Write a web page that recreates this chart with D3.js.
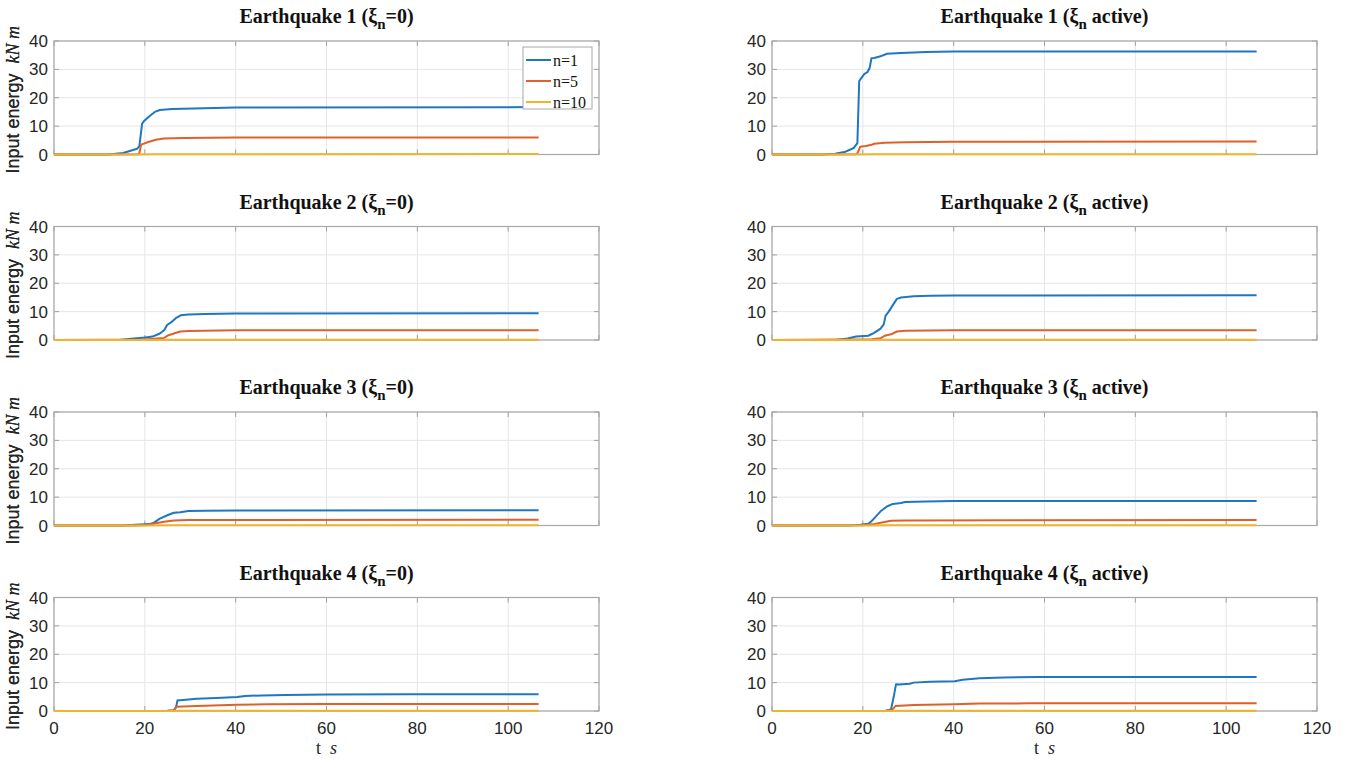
<!DOCTYPE html>
<html>
<head>
<meta charset="utf-8">
<script src="https://cdn.jsdelivr.net/npm/d3@7"></script>
<style>
  body { margin: 0; background: #fff; }
  svg { display: block; }
</style>
</head>
<body>
<svg id="chart" width="1346" height="759"></svg>
<script>
// Axis ticks and legend
const xTicks = [0, 20, 40, 60, 80, 100, 120];
const yTicks = [0, 10, 20, 30, 40];
const seriesNames = ["n=1", "n=5", "n=10"];
const seriesColors = ["#1f77c0", "#e0602a", "#efb32c"];

// Earthquake 1, xi_n = 0  ([t, energy])
const eq1ZeroN1 = [[0,0],[12,0],[15.2,0.5],[18.3,2],[18.8,3],[19.4,10.9],[19.9,11.9],[21,13.5],[22.2,15],[23.3,15.7],[26,16],[33,16.3],[40,16.6],[106.7,16.7]];
const eq1ZeroN5 = [[0,0],[18.5,0.1],[18.8,0.5],[19.2,3.5],[20.6,4.3],[22.4,5.2],[24.2,5.6],[28.7,5.8],[40,6.0],[106.7,6.0]];
const eq1ZeroN10 = [[0,0],[18,0.02],[22,0.12],[106.7,0.15]];

// Earthquake 1, xi_n active
const eq1ActN1 = [[0,0],[11.2,0],[13.9,0.3],[16.2,1.0],[18,2.3],[18.8,4],[19.2,25.9],[19.7,27],[20.3,28.3],[21,29],[21.5,30.5],[21.9,33.9],[22.5,34],[23.9,34.6],[25.3,35.5],[28.4,35.8],[33.9,36.1],[40,36.3],[106.7,36.3]];
const eq1ActN5 = [[0,0],[18.5,0.1],[18.8,0.4],[19.4,2.7],[20.7,3.0],[21.9,3.4],[22.5,3.8],[24.8,4.1],[29.3,4.3],[40,4.5],[106.7,4.6]];
const eq1ActN10 = [[0,0],[18,0.02],[22,0.1],[106.7,0.12]];

// Earthquake 2, xi_n = 0
const eq2ZeroN1 = [[0,0],[14.3,0],[17,0.4],[20.1,0.9],[21.7,1.2],[23.3,2.3],[24.3,3.5],[24.9,5.3],[26,6.5],[27,7.9],[27.9,8.7],[29.6,9.0],[33.2,9.2],[40,9.3],[106.7,9.4]];
const eq2ZeroN5 = [[0,0],[20,0.2],[24.2,0.7],[25.2,1.7],[26.4,2.3],[27.8,3.0],[29.6,3.2],[40,3.4],[106.7,3.4]];
const eq2ZeroN10 = [[0,0],[20,0.02],[26,0.1],[106.7,0.12]];

// Earthquake 2, xi_n active
const eq2ActN1 = [[0,0],[14,0],[16.7,0.5],[18.5,1.2],[21.2,1.5],[22.5,2.5],[23.9,4],[24.6,5.5],[25,8.5],[25.7,10],[26.6,12.3],[27.5,14.5],[28.4,15.0],[31.2,15.4],[34.8,15.6],[40,15.7],[106.7,15.8]];
const eq2ActN5 = [[0,0],[22,0.3],[23.9,0.6],[24.8,1.5],[26.2,2.0],[27.5,3.0],[29.3,3.3],[40,3.4],[106.7,3.4]];
const eq2ActN10 = [[0,0],[20,0.02],[26,0.1],[106.7,0.12]];

// Earthquake 3, xi_n = 0
const eq3ZeroN1 = [[0,0],[15,0],[17.9,0.3],[21.1,0.5],[22,1.0],[23.3,2.4],[25.1,3.7],[26.4,4.5],[27.8,4.7],[29.6,5.1],[33.2,5.2],[40,5.3],[106.7,5.4]];
const eq3ZeroN5 = [[0,0],[18,0],[20.6,0.2],[22.4,0.8],[24.2,1.3],[26.4,1.8],[29.6,1.9],[106.7,2.0]];
const eq3ZeroN10 = [[0,0],[20,0.02],[26,0.08],[106.7,0.1]];

// Earthquake 3, xi_n active
const eq3ActN1 = [[0,0],[17,0],[19.4,0.3],[21.2,0.6],[21.9,1.5],[22.6,2.7],[23.9,5],[25.3,6.7],[26.6,7.6],[28.4,7.9],[29.3,8.3],[33.9,8.5],[40,8.6],[106.7,8.6]];
const eq3ActN5 = [[0,0],[20,0.1],[22.1,0.4],[24.8,1.2],[26.2,1.7],[29.3,1.8],[106.7,1.9]];
const eq3ActN10 = [[0,0],[20,0.02],[26,0.08],[106.7,0.1]];

// Earthquake 4, xi_n = 0
const eq4ZeroN1 = [[0,0],[25,0.1],[26.4,0.3],[26.9,1.5],[27.2,3.8],[27.8,3.8],[31.4,4.3],[35.8,4.6],[40.3,4.9],[42.1,5.3],[45.7,5.5],[51.1,5.6],[60,5.8],[78,5.9],[106.7,5.9]];
const eq4ZeroN5 = [[0,0],[25,0.05],[26.4,0.2],[27,1.5],[31.4,1.8],[40.3,2.2],[46.6,2.4],[60,2.5],[106.7,2.5]];
const eq4ZeroN10 = [[0,0],[26,0.02],[28,0.1],[106.7,0.12]];

// Earthquake 4, xi_n active
const eq4ActN1 = [[0,0],[25,0.1],[26.2,0.5],[26.8,5],[27.3,9.4],[28,9.3],[30.3,9.6],[31.2,10],[34.8,10.3],[40.2,10.5],[42,11.0],[45.7,11.5],[51.1,11.8],[58.3,12.0],[106.7,12.0]];
const eq4ActN5 = [[0,0],[25,0.05],[26.4,0.3],[27.2,1.8],[31.2,2.1],[40.2,2.4],[45.7,2.6],[56.5,2.7],[106.7,2.7]];
const eq4ActN10 = [[0,0],[26,0.02],[28,0.1],[106.7,0.12]];

const quakeNames = ["Earthquake 1", "Earthquake 2", "Earthquake 3", "Earthquake 4"];

// Panels: row = earthquake, col 0 = xi_n=0, col 1 = xi_n active
const panels = [
  { row: 0, col: 0, series: [eq1ZeroN1, eq1ZeroN5, eq1ZeroN10] },
  { row: 0, col: 1, series: [eq1ActN1, eq1ActN5, eq1ActN10] },
  { row: 1, col: 0, series: [eq2ZeroN1, eq2ZeroN5, eq2ZeroN10] },
  { row: 1, col: 1, series: [eq2ActN1, eq2ActN5, eq2ActN10] },
  { row: 2, col: 0, series: [eq3ZeroN1, eq3ZeroN5, eq3ZeroN10] },
  { row: 2, col: 1, series: [eq3ActN1, eq3ActN5, eq3ActN10] },
  { row: 3, col: 0, series: [eq4ZeroN1, eq4ZeroN5, eq4ZeroN10] },
  { row: 3, col: 1, series: [eq4ActN1, eq4ActN5, eq4ActN10] }
];

// Layout
const colLeft = [54, 772];
const plotW = 545;
const rowTop = [41, 226.5, 412, 597.5];
const plotH = 113.5;

const svg = d3.select("#chart");

const sansFont = "'Liberation Sans', Arial, sans-serif";
const serifFont = "'Liberation Serif', 'Times New Roman', serif";

panels.forEach(p => {
  const left = colLeft[p.col];
  const top = rowTop[p.row];

  const x = d3.scaleLinear().domain([0, 120]).range([0, plotW]);
  const y = d3.scaleLinear().domain([0, 40]).range([plotH, 0]);

  const g = svg.append("g").attr("transform", `translate(${left},${top})`);

  // background + grid
  g.append("rect").attr("width", plotW).attr("height", plotH).attr("fill", "#fff");

  g.selectAll(".gx").data(xTicks).enter().append("line")
    .attr("x1", d => x(d)).attr("x2", d => x(d))
    .attr("y1", 0).attr("y2", plotH)
    .attr("stroke", "#e6e6e6").attr("stroke-width", 1);

  g.selectAll(".gy").data(yTicks).enter().append("line")
    .attr("x1", 0).attr("x2", plotW)
    .attr("y1", d => y(d)).attr("y2", d => y(d))
    .attr("stroke", "#e6e6e6").attr("stroke-width", 1);

  // inner ticks on all four sides
  const tickLen = 5;
  yTicks.forEach(t => {
    g.append("line").attr("x1", 0).attr("x2", tickLen).attr("y1", y(t)).attr("y2", y(t)).attr("stroke", "#a0a0a0");
    g.append("line").attr("x1", plotW).attr("x2", plotW - tickLen).attr("y1", y(t)).attr("y2", y(t)).attr("stroke", "#a0a0a0");
  });
  xTicks.forEach(t => {
    g.append("line").attr("x1", x(t)).attr("x2", x(t)).attr("y1", plotH).attr("y2", plotH - tickLen).attr("stroke", "#a0a0a0");
    g.append("line").attr("x1", x(t)).attr("x2", x(t)).attr("y1", 0).attr("y2", tickLen).attr("stroke", "#a0a0a0");
  });

  // frame (drawn under the lines so the near-zero n=10 curve stays visible)
  g.append("rect").attr("width", plotW).attr("height", plotH)
    .attr("fill", "none").attr("stroke", "#a8a8a8").attr("stroke-width", 1.2);

  // lines
  const line = d3.line().x(d => x(d[0])).y(d => y(d[1]));
  p.series.forEach((s, i) => {
    g.append("path")
      .datum(s)
      .attr("d", line)
      .attr("fill", "none")
      .attr("stroke", seriesColors[i])
      .attr("stroke-width", 2)
      .attr("stroke-linejoin", "round");
  });

  // y tick labels
  g.selectAll(".yl").data(yTicks).enter().append("text")
    .attr("x", -6).attr("y", d => y(d))
    .attr("dy", "0.36em")
    .attr("text-anchor", "end")
    .attr("font-family", sansFont)
    .attr("font-size", 17)
    .attr("fill", "#262626")
    .text(d => d);

  // x tick labels + x label only on bottom row
  if (p.row === 3) {
    g.selectAll(".xl").data(xTicks).enter().append("text")
      .attr("x", d => x(d)).attr("y", plotH + 23)
      .attr("text-anchor", "middle")
      .attr("font-family", sansFont)
      .attr("font-size", 17)
      .attr("fill", "#262626")
      .text(d => d);

    const xl = g.append("text")
      .attr("x", plotW / 2).attr("y", plotH + 43)
      .attr("text-anchor", "middle")
      .attr("font-family", serifFont)
      .attr("font-size", 18)
      .attr("fill", "#262626");
    xl.append("tspan").text("t\u00a0\u00a0");
    xl.append("tspan").attr("font-style", "italic").text("s");
  }

  // y label
  const yl = g.append("text")
    .attr("transform", `translate(${19 - left},${plotH / 2 + 2}) rotate(-90)`)
    .attr("text-anchor", "middle")
    .attr("font-size", 18)
    .attr("fill", "#262626");
  yl.append("tspan").attr("font-family", sansFont).text("Input energy\u00a0\u00a0");
  yl.append("tspan").attr("font-family", serifFont).attr("font-style", "italic").text("kN m");

  // title
  const title = g.append("text")
    .attr("x", plotW / 2).attr("y", -18)
    .attr("text-anchor", "middle")
    .attr("font-family", serifFont)
    .attr("font-weight", "bold")
    .attr("font-size", 20)
    .attr("fill", "#111");
  title.append("tspan").text(quakeNames[p.row] + " (\u03be");
  title.append("tspan").attr("font-size", 15).attr("dy", 6).text("n");
  title.append("tspan").attr("dy", -6).text(p.col === 0 ? "=0)" : " active)");

  // legend in first panel
  if (p.row === 0 && p.col === 0) {
    const lg = g.append("g").attr("transform", `translate(${523 - left},${47 - top})`);
    lg.append("rect").attr("width", 69).attr("height", 62)
      .attr("fill", "#fff").attr("stroke", "#a8a8a8");
    seriesNames.forEach((name, i) => {
      const yy = 13 + i * 21;
      lg.append("line").attr("x1", 3).attr("x2", 28).attr("y1", yy).attr("y2", yy)
        .attr("stroke", seriesColors[i]).attr("stroke-width", 2);
      lg.append("text").attr("x", 30).attr("y", yy).attr("dy", "0.35em")
        .attr("font-family", serifFont).attr("font-size", 16).attr("fill", "#111")
        .text(name);
    });
  }
});
</script>
</body>
</html>
